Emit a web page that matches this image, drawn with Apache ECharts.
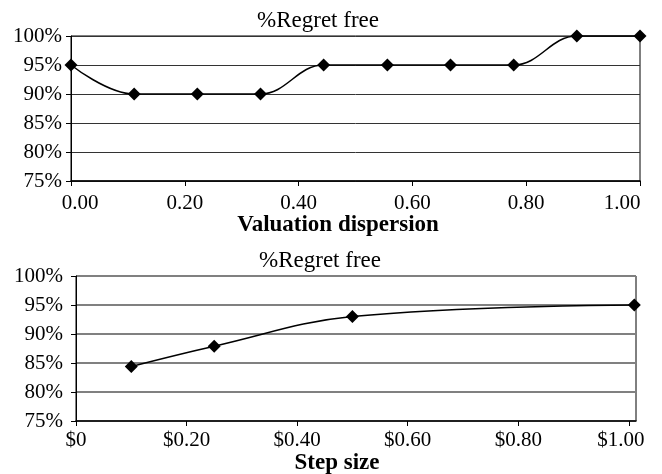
<!DOCTYPE html>
<html>
<head>
<meta charset="utf-8">
<script src="https://cdn.jsdelivr.net/npm/echarts@6/dist/echarts.min.js"></script>
<style>
  html, body { margin: 0; padding: 0; background: #fff; }
  #chart { width: 662px; height: 474px; }
</style>
</head>
<body>
<div id="chart"></div>
<script>
// valuation dispersion chart
const dispersionX = [0, 0.111, 0.222, 0.333, 0.444, 0.556, 0.667, 0.778, 0.889, 1.0]
const dispersionPct = [95, 90, 90, 90, 95, 95, 95, 95, 100, 100]

// step size chart
const stepX = [0.10, 0.25, 0.50, 1.01]
const stepPct = [84.4, 87.9, 93, 95]

const chartTitle = '%Regret free'
const topAxisName = 'Valuation dispersion'
const bottomAxisName = 'Step size'

const font = 'Liberation Serif, Times New Roman, serif'
const chart = echarts.init(document.getElementById('chart'))

function yAxis(gridIndex, gridColor, gridWidth, margin) {
  return {
    gridIndex,
    type: 'value',
    min: 75,
    max: 100,
    interval: 5,
    axisLine: { show: true, lineStyle: { color: '#000', width: 1 } },
    axisTick: { show: true, length: 5, lineStyle: { color: '#000' } },
    axisLabel: { color: '#000', fontFamily: font, fontSize: 21, margin, formatter: '{value}%' },
    splitLine: { show: true, lineStyle: { color: gridColor, width: gridWidth } },
  }
}

function xAxis(gridIndex, max, margin, fmt) {
  return {
    gridIndex,
    type: 'value',
    min: 0,
    max,
    interval: 0.2,
    axisLine: { show: true, onZero: false, lineStyle: { color: '#000', width: 1.5 } },
    axisTick: { show: true, length: 5, lineStyle: { color: '#000' } },
    axisLabel: {
      color: '#000', fontFamily: font, fontSize: 21, margin,
      showMaxLabel: max === 1,
      formatter: fmt,
      rich: {
        l: { fontFamily: font, fontSize: 21, color: '#000', padding: [0, 0, 0, 18] },
        r: { fontFamily: font, fontSize: 21, color: '#000', padding: [0, 16, 0, 0] },
        rr: { fontFamily: font, fontSize: 21, color: '#000', padding: [0, 36, 0, 0] },
      },
    },
    splitLine: { show: false },
  }
}

function lineSeries(idx, xs, ys) {
  return {
    type: 'line',
    xAxisIndex: idx,
    yAxisIndex: idx,
    data: xs.map((x, i) => [x, ys[i]]),
    smooth: 0.4,
    symbol: 'diamond',
    symbolSize: 13,
    lineStyle: { color: '#000', width: 1.5 },
    itemStyle: { color: '#000' },
    clip: false,
  }
}

const titleStyle = { color: '#000', fontFamily: font, fontSize: 23, fontWeight: 'normal' }
const nameStyle = { color: '#000', fontFamily: font, fontSize: 23, fontWeight: 'bold' }

chart.setOption({
  animation: false,
  title: [
    { text: chartTitle, left: 318, top: 9, textAlign: 'center', padding: 0, textStyle: titleStyle },
    { text: topAxisName, left: 338, top: 214, textAlign: 'center', padding: 0, textStyle: nameStyle },
    { text: chartTitle, left: 320, top: 249, textAlign: 'center', padding: 0, textStyle: titleStyle },
    { text: bottomAxisName, left: 337, top: 452, textAlign: 'center', padding: 0, textStyle: nameStyle },
  ],
  grid: [
    { left: 71, right: 22, top: 36, height: 145, show: true, borderColor: '#000', borderWidth: 1, containLabel: false },
    { left: 76, right: 26, top: 276, height: 145, show: true, borderColor: '#000', borderWidth: 1, containLabel: false },
  ],
  xAxis: [
    xAxis(0, 1, 12, (v) => {
      if (v === 0) return '{l|0.00}'
      if (v === 1) return '{rr|1.00}'
      return v.toFixed(2)
    }),
    xAxis(1, 1.013, 9, (v) => {
      if (v === 0) return '$0'
      if (v === 1) return '{r|$1.00}'
      return '$' + v.toFixed(2)
    }),
  ],
  yAxis: [
    yAxis(0, '#333', 1, 9),
    yAxis(1, '#808080', 2, 13),
  ],
  series: [
    lineSeries(0, dispersionX, dispersionPct),
    lineSeries(1, stepX, stepPct),
  ],
})
</script>
</body>
</html>
